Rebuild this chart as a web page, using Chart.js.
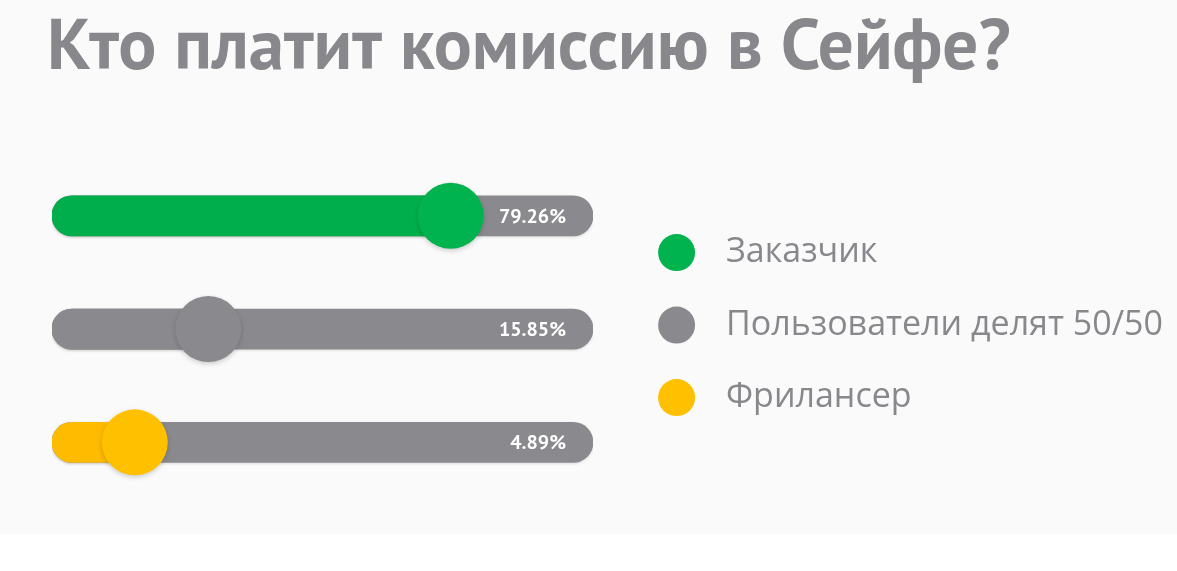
<!DOCTYPE html>
<html lang="ru">
<head>
<meta charset="utf-8">
<title>Кто платит комиссию в Сейфе?</title>
<script src="https://cdn.jsdelivr.net/npm/chart.js@4.4.1/dist/chart.umd.min.js"></script>
<style>
  html, body { margin: 0; padding: 0; background: #ffffff; }
  canvas { display: block; }
</style>
</head>
<body>
<canvas id="mychart" width="1177" height="571"></canvas>
<script>
// values
const categories = ['Заказчик', 'Пользователи делят 50/50', 'Фрилансер']
const shares = [79.26, 15.85, 4.89]       // printed on the tracks, %
const sliderPos = [73.7, 28.9, 15.3]      // where each knob sits, % of the track length
const trackFull = [100, 100, 100]

const colors = ['#00b34e', '#8a898e', '#ffc000']      // knobs + legend dots
const fillColors = ['#00af4b', '#8a898e', '#ffbb00']  // filled part of the track
const trackColor = '#8a898e'
const textGray = '#88878c'

// legend on the right, registered as a layout box so the chart area stops at the track end
const sideLegend = {
    id: 'sideLegend',
    beforeInit(chart) {
        const box = {
            position: 'right', weight: 0, fullSize: false, options: {},
            left: 0, top: 0, right: 0, bottom: 0, width: 0, height: 0,
            isHorizontal() { return false },
            update(maxWidth, maxHeight) { this.width = 584; this.height = maxHeight },
            draw() {
                const ctx = chart.ctx
                const mid = (this.top + this.bottom) / 2 - 4
                ctx.save()
                ctx.font = '34px "Open Sans"'
                ctx.textBaseline = 'middle'
                categories.forEach((c, i) => {
                    const y = mid + (i - 1) * 72.5
                    ctx.fillStyle = colors[i]
                    ctx.beginPath()
                    ctx.arc(this.left + 83.6, y, 18.5, 0, Math.PI * 2)
                    ctx.fill()
                    ctx.fillStyle = textGray
                    ctx.fillText(c, this.left + 133, y)
                })
                ctx.restore()
            }
        }
        Chart.layouts.addBox(chart, box)
    }
}

// light panel behind everything
const panel = {
    id: 'panel',
    beforeDraw(chart) {
        const ctx = chart.ctx
        ctx.save()
        ctx.fillStyle = '#fafafa'
        ctx.fillRect(0, 0, chart.width, 534)
        ctx.restore()
    }
}

// soft shadows: stronger under the knobs, faint under the bars
const shadows = {
    id: 'shadows',
    beforeDatasetDraw(chart, args) {
        const ctx = chart.ctx
        ctx.save()
        if (args.index === 0) {
            ctx.shadowColor = 'rgba(0,0,0,0.18)'
            ctx.shadowBlur = 5
            ctx.shadowOffsetY = 2
        } else {
            ctx.shadowColor = 'rgba(0,0,0,0.12)'
            ctx.shadowBlur = 3
            ctx.shadowOffsetY = 1
        }
    },
    afterDatasetDraw(chart) {
        chart.ctx.restore()
    }
}

// percentage at the right end of every track
const valueLabels = {
    id: 'valueLabels',
    afterDatasetsDraw(chart) {
        const ctx = chart.ctx
        const x = chart.scales.x.getPixelForValue(100) - 27
        ctx.save()
        ctx.font = 'bold 20px "PT Sans", "Open Sans"'
        ctx.fillStyle = '#ffffff'
        ctx.textAlign = 'right'
        ctx.textBaseline = 'middle'
        shares.forEach((v, i) => {
            ctx.fillText(v.toFixed(2) + '%', x, chart.scales.y.getPixelForValue(i) + 1)
        })
        ctx.restore()
    }
}

const data = {
    labels: categories,
    datasets: [{
        type: 'line',
        label: 'knob',
        data: sliderPos.map((v, i) => ({ x: v, y: categories[i] })),
        showLine: false,
        pointRadius: 33,
        pointHoverRadius: 33,
        pointBorderWidth: 0,
        pointBackgroundColor: colors,
        order: 0
    }, {
        label: 'fill',
        data: sliderPos,
        backgroundColor: fillColors,
        barThickness: 40,
        borderRadius: 20,
        borderSkipped: false,
        grouped: false,
        order: 1
    }, {
        label: 'track',
        data: trackFull,
        backgroundColor: trackColor,
        barThickness: 40,
        borderRadius: 20,
        borderSkipped: false,
        grouped: false,
        order: 2
    }]
}

const config = {
    type: 'bar',
    data,
    options: {
        indexAxis: 'y',
        responsive: false,
        animation: false,
        events: [],
        layout: { padding: { left: 47, top: 0, right: 0, bottom: 72 } },
        scales: {
            x: { type: 'linear', min: 0, max: 100, offset: false, display: false },
            y: {
                type: 'category',
                labels: categories,
                offset: true,
                ticks: { display: false },
                grid: { display: false },
                border: { display: false },
                afterFit(scale) { scale.width = 5 }
            }
        },
        plugins: {
            legend: { display: false },
            tooltip: { enabled: false },
            title: {
                display: true,
                text: 'Кто платит комиссию в Сейфе?',
                align: 'start',
                color: textGray,
                font: { family: '"PT Sans", "Roboto Condensed", Roboto', size: 71, weight: 'bold', lineHeight: 1.2 },
                padding: { top: 6, bottom: 68 }
            }
        }
    },
    plugins: [panel, sideLegend, shadows, valueLabels]
}

let myChart = new Chart(document.getElementById('mychart'), config)
</script>
</body>
</html>
